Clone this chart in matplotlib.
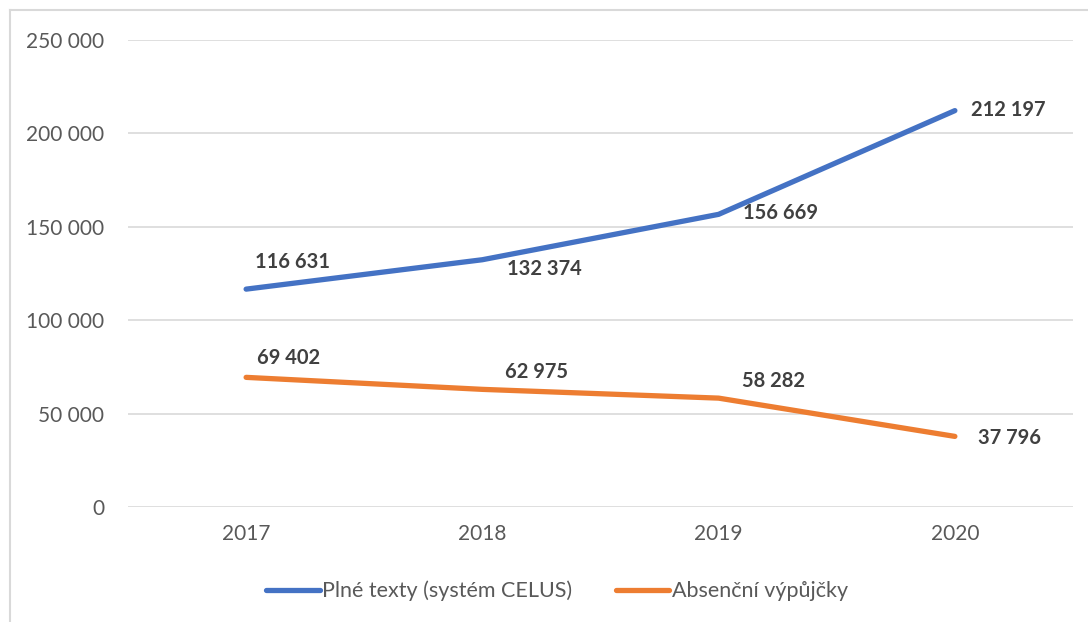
import matplotlib.pyplot as plt
from matplotlib.lines import Line2D

years = ["2017", "2018", "2019", "2020"]
plne_texty = [116631, 132374, 156669, 212197]
absencni = [69402, 62975, 58282, 37796]
series_names = ["Plné texty (systém CELUS)", "Absenční výpůjčky"]

# label offsets in pixels (dx, dy) from each point
off_blue = [(46, 27), (62, -9), (62, 1), (53, 1)]
off_orange = [(42, 19), (54, 17), (55, 17), (55, -2)]

plt.rcParams['font.family'] = ['Lato', 'DejaVu Sans']

fig = plt.figure(figsize=(10.88, 6.22), dpi=100)
ax = fig.add_axes([128 / 1088, 1 - 507 / 622, (1073 - 128) / 1088, (507 - 40) / 622])

x = list(range(len(years)))
blue = "#4472C4"
orange = "#ED7D31"
ax.plot(x, plne_texty, color=blue, lw=3.8, solid_capstyle='round', label=series_names[0], zorder=3)
ax.plot(x, absencni, color=orange, lw=3.8, solid_capstyle='round', label=series_names[1], zorder=3)


def fmt(v):
    return "{:,}".format(v).replace(",", " ")


for xi, v, o in zip(x, plne_texty, off_blue):
    ax.annotate(fmt(v), (xi, v), xytext=o, textcoords='offset pixels',
                ha='center', va='center', fontsize=14.5, fontweight='bold', color='#404040')
for xi, v, o in zip(x, absencni, off_orange):
    ax.annotate(fmt(v), (xi, v), xytext=o, textcoords='offset pixels',
                ha='center', va='center', fontsize=14.5, fontweight='bold', color='#404040')

ax.set_xlim(-0.5, 3.5)
ax.set_ylim(0, 250000)
ax.set_yticks(range(0, 250001, 50000))
ax.set_yticklabels([fmt(t) for t in range(0, 250001, 50000)])
ax.set_xticks(x)
ax.set_xticklabels(years)
ax.grid(axis='y', color='#D9D9D9', lw=1.2)
ax.set_axisbelow(True)
for s in ax.spines.values():
    s.set_visible(False)
ax.tick_params(length=0, labelsize=15, colors='#595959')
ax.tick_params(axis='y', pad=17)
ax.tick_params(axis='x', pad=12)

leg = fig.legend(loc='center', bbox_to_anchor=(557 / 1088, 1 - 591 / 622), ncol=2, frameon=False,
                 fontsize=15.5, handlelength=2.5, handletextpad=0.1, columnspacing=2.0)
for t in leg.get_texts():
    t.set_color('#595959')

# chart border (only top and left visible in crop)
fig.add_artist(Line2D([10 / 1088, 10 / 1088], [0, 1 - 10 / 622], transform=fig.transFigure, color='#D9D9D9', lw=1.5))
fig.add_artist(Line2D([10 / 1088, 1], [1 - 10 / 622, 1 - 10 / 622], transform=fig.transFigure, color='#D9D9D9', lw=1.5))

fig.savefig("out.png", dpi=100)
